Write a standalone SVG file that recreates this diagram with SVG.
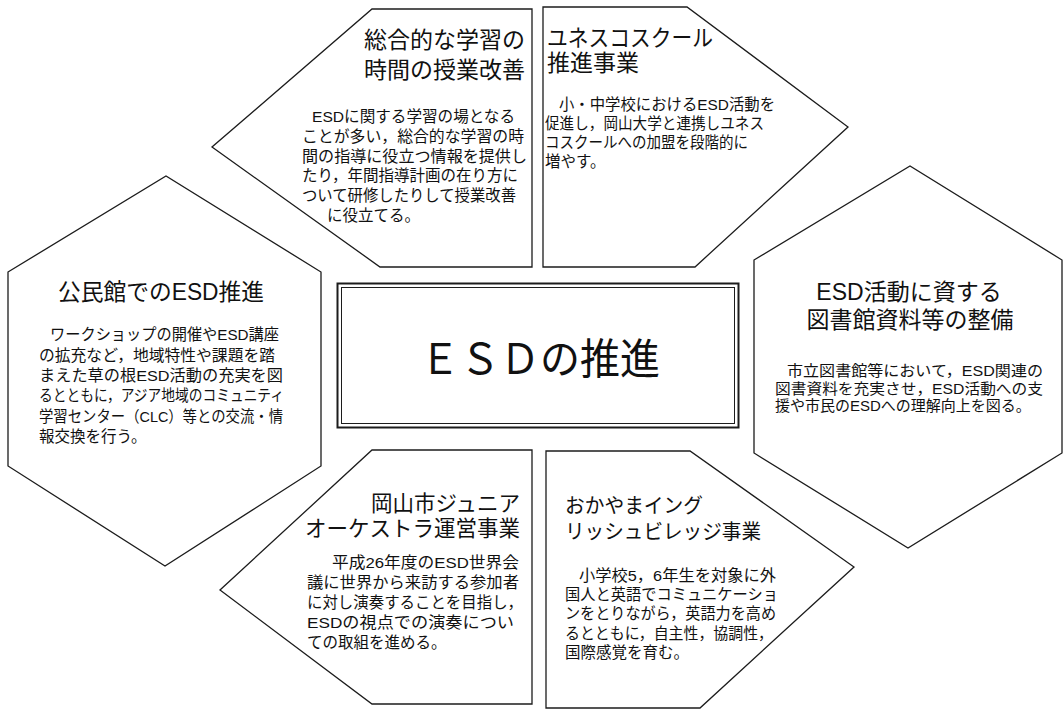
<svg xmlns="http://www.w3.org/2000/svg" width="1064" height="711" viewBox="0 0 1064 711">
<style>
.shape{fill:#fff;stroke:#1c1c1c;stroke-width:1.3;stroke-linejoin:miter}
.t{font-family:"Liberation Sans","Noto Sans CJK JP",sans-serif;fill:#111}
.title{font-size:23px}
.body{font-size:15.5px}
.body15{font-size:15px}
.end{text-anchor:end}
.mid{text-anchor:middle}
</style>
<rect x="0" y="0" width="1064" height="711" fill="#fff"/>

<g id="node-sogo">
<polygon class="shape" points="372,9 532,9 532,267 380,267 212,147"/>
<text class="t title end" x="525" y="48">総合的な学習の</text>
<text class="t title end" x="525" y="78">時間の授業改善</text>
<text class="t body" x="312" y="122" textLength="203" lengthAdjust="spacingAndGlyphs">ESDに関する学習の場となる</text>
<text class="t body" x="302" y="142" textLength="222" lengthAdjust="spacingAndGlyphs">ことが多い，総合的な学習の時</text>
<text class="t body" x="302" y="161.5" textLength="225" lengthAdjust="spacingAndGlyphs">間の指導に役立つ情報を提供し</text>
<text class="t body" x="302" y="181" textLength="216" lengthAdjust="spacingAndGlyphs">たり，年間指導計画の在り方に</text>
<text class="t body" x="302" y="201" textLength="214" lengthAdjust="spacingAndGlyphs">ついて研修したりして授業改善</text>
<text class="t body" x="327" y="221">に役立てる。</text>
</g>

<g id="node-unesco">
<polygon class="shape" points="543,7 687,7 848,127 695,267 543,267"/>
<text class="t title" x="547" y="46" textLength="166" lengthAdjust="spacingAndGlyphs">ユネスコスクール</text>
<text class="t title" x="547" y="71">推進事業</text>
<text class="t body" x="559" y="110" textLength="216" lengthAdjust="spacingAndGlyphs">小・中学校におけるESD活動を</text>
<text class="t body" x="545" y="129" textLength="219" lengthAdjust="spacingAndGlyphs">促進し，岡山大学と連携しユネス</text>
<text class="t body" x="545" y="148" textLength="203" lengthAdjust="spacingAndGlyphs">コスクールへの加盟を段階的に</text>
<text class="t body" x="545" y="167">増やす。</text>
</g>

<g id="node-kominkan">
<polygon class="shape" points="8,272 166,176 321,272 321,466 165,566 8,466"/>
<text class="t title" x="58" y="300" textLength="206" lengthAdjust="spacingAndGlyphs">公民館でのESD推進</text>
<text class="t body" x="50" y="340" textLength="229" lengthAdjust="spacingAndGlyphs">ワークショップの開催やESD講座</text>
<text class="t body" x="39" y="360.5" textLength="236" lengthAdjust="spacingAndGlyphs">の拡充など，地域特性や課題を踏</text>
<text class="t body" x="39" y="381" textLength="244" lengthAdjust="spacingAndGlyphs">まえた草の根ESD活動の充実を図</text>
<text class="t body" x="39" y="401" textLength="245" lengthAdjust="spacingAndGlyphs">るとともに，アジア地域のコミュニティ</text>
<text class="t body" x="39" y="421.5" textLength="244" lengthAdjust="spacingAndGlyphs">学習センター（CLC）等との交流・情</text>
<text class="t body" x="39" y="442">報交換を行う。</text>
</g>

<g id="node-library">
<polygon class="shape" points="754,260 910,166 1062,260 1062,453 908,548 754,453"/>
<text class="t title mid" x="909" y="300">ESD活動に資する</text>
<text class="t title mid" x="910" y="328">図書館資料等の整備</text>
<text class="t body15" x="787" y="376" textLength="256" lengthAdjust="spacingAndGlyphs">市立図書館等において，ESD関連の</text>
<text class="t body15" x="775" y="393.5" textLength="268" lengthAdjust="spacingAndGlyphs">図書資料を充実させ，ESD活動への支</text>
<text class="t body15" x="775" y="411">援や市民のESDへの理解向上を図る。</text>
</g>

<g id="node-center">
<rect x="337.5" y="283.5" width="401" height="144" fill="#fff" stroke="#1c1c1c" stroke-width="2"/>
<rect x="341.5" y="287.5" width="393" height="136" fill="none" stroke="#1c1c1c" stroke-width="1"/>
<text class="t mid" x="540" y="374" font-size="42" font-family="Noto Sans CJK JP, sans-serif" textLength="240" lengthAdjust="spacingAndGlyphs">ＥＳＤの推進</text>
</g>

<g id="node-orchestra">
<polygon class="shape" points="372,450 532,450 532,704 372,704 220,590"/>
<text class="t end" font-size="21.5" x="520" y="511">岡山市ジュニア</text>
<text class="t end" font-size="21.5" x="520" y="536">オーケストラ運営事業</text>
<text class="t body" x="332" y="568" textLength="187" lengthAdjust="spacingAndGlyphs">平成26年度のESD世界会</text>
<text class="t body" x="307" y="588" textLength="212" lengthAdjust="spacingAndGlyphs">議に世界から来訪する参加者</text>
<text class="t body" x="307" y="608" textLength="216" lengthAdjust="spacingAndGlyphs">に対し演奏することを目指し，</text>
<text class="t body" x="307" y="628" textLength="207" lengthAdjust="spacingAndGlyphs">ESDの視点での演奏につい</text>
<text class="t body" x="307" y="648">ての取組を進める。</text>
</g>

<g id="node-english">
<polygon class="shape" points="546,451 690,451 854,567 700,708 546,708"/>
<text class="t" font-size="20.5" x="565" y="513" textLength="138" lengthAdjust="spacingAndGlyphs">おかやまイング</text>
<text class="t" font-size="20.5" x="565" y="539" textLength="196" lengthAdjust="spacingAndGlyphs">リッシュビレッジ事業</text>
<text class="t body" x="579" y="581" textLength="197" lengthAdjust="spacingAndGlyphs">小学校5，6年生を対象に外</text>
<text class="t body" x="565" y="600" textLength="213" lengthAdjust="spacingAndGlyphs">国人と英語でコミュニケーショ</text>
<text class="t body" x="565" y="619" textLength="211" lengthAdjust="spacingAndGlyphs">ンをとりながら，英語力を高め</text>
<text class="t body" x="565" y="639" textLength="208" lengthAdjust="spacingAndGlyphs">るとともに，自主性，協調性，</text>
<text class="t body" x="565" y="658">国際感覚を育む。</text>
</g>
</svg>
